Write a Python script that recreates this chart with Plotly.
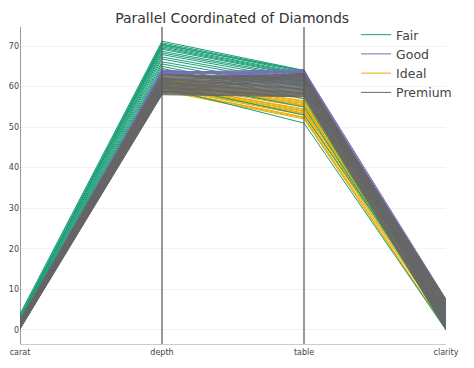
import plotly.graph_objects as go

dims = ["carat", "depth", "table", "clarity"]
y_ticks = [0, 10, 20, 30, 40, 50, 60, 70]

# Fair
fair_carat = [3.9, 3.5, 3.0, 2.8, 2.5, 2.2, 2.0, 1.8, 1.5, 1.2, 1.0, 0.9, 0.8, 0.7, 0.6, 2.6, 3.2, 1.4, 0.5, 1.1]
fair_depth = [71.2, 70.8, 70.5, 70.1, 69.8, 69.2, 68.7, 68.3, 67.9, 67.3, 66.8, 66.1, 65.6, 65.0, 64.5, 70.3, 69.5, 61.5, 60.5, 59.8]
fair_table = [64.0, 63.8, 63.5, 63.2, 63.0, 62.6, 62.3, 62.0, 61.5, 61.0, 60.5, 60.0, 59.0, 58.0, 57.0, 63.9, 62.8, 55.0, 53.0, 51.0]
fair_clarity = [1.0, 3.0, 2.0, 5.0, 4.0, 6.0, 0.5, 3.5, 7.0, 2.5, 1.5, 4.5, 6.5, 5.5, 0.0, 2.0, 4.0, 1.0, 3.0, 0.0]

# Good
good_carat = [0.3, 0.5, 0.7, 0.9, 1.1, 1.3, 1.5, 1.7, 2.0, 2.3, 0.4, 1.0]
good_depth = [63.0, 63.2, 63.4, 63.6, 63.8, 64.0, 63.1, 63.3, 63.5, 63.7, 63.9, 64.1]
good_table = [64.0, 63.8, 63.5, 63.0, 62.5, 62.0, 61.5, 61.0, 64.2, 63.6, 62.8, 61.8]
good_clarity = [7.5, 7.0, 6.5, 6.0, 5.0, 4.0, 3.0, 2.0, 1.0, 5.5, 3.5, 6.8]

# Ideal
ideal_carat = [0.2, 0.3, 0.4, 0.5, 0.6, 0.7, 0.8, 0.9, 1.0, 1.1, 1.2, 1.4, 1.6, 1.8, 2.0, 0.35, 0.55, 0.75, 0.95, 1.3]
ideal_depth = [59.0, 59.3, 59.6, 59.9, 60.2, 60.5, 60.8, 61.1, 61.4, 61.7, 62.0, 62.2, 59.5, 60.0, 61.0, 59.2, 59.8, 60.4, 61.2, 61.8]
ideal_table = [52.0, 52.5, 53.0, 53.5, 54.0, 54.5, 55.0, 55.5, 56.0, 56.5, 57.0, 57.5, 58.0, 53.8, 55.8, 52.3, 53.3, 54.3, 55.3, 56.3]
ideal_clarity = [0.0, 1.0, 2.0, 3.0, 4.0, 5.0, 6.0, 7.0, 0.5, 1.5, 2.5, 3.5, 4.5, 5.5, 6.5, 0.2, 1.2, 2.2, 3.2, 4.2]

# Premium
prem_carat = [0.2, 0.3, 0.35, 0.4, 0.5, 0.55, 0.6, 0.7, 0.75, 0.8, 0.9, 1.0, 1.05, 1.1, 1.2, 1.3, 1.4, 1.5, 1.6, 1.7, 1.8, 1.9, 2.0, 2.1, 2.2, 2.3, 2.5, 0.45, 0.65, 1.25]
prem_depth = [58.0, 58.2, 58.4, 58.6, 58.8, 59.0, 59.2, 59.4, 59.6, 59.8, 60.0, 60.2, 60.4, 60.6, 60.8, 61.0, 61.2, 61.4, 61.6, 61.8, 62.0, 62.2, 62.4, 62.6, 62.8, 63.0, 58.5, 59.5, 60.5, 61.5]
prem_table = [57.5, 57.7, 57.9, 58.1, 58.3, 58.5, 58.7, 58.9, 59.1, 59.3, 59.5, 59.7, 59.9, 60.1, 60.3, 60.5, 60.7, 60.9, 61.1, 61.3, 61.5, 61.7, 61.9, 62.1, 62.3, 62.5, 62.7, 62.9, 63.1, 63.3]
prem_clarity = [0.0, 0.3, 0.6, 0.9, 1.2, 1.5, 1.8, 2.1, 2.4, 2.7, 3.0, 3.3, 3.6, 3.9, 4.2, 4.5, 4.8, 5.1, 5.4, 5.7, 6.0, 6.3, 6.6, 6.9, 7.2, 7.5, 1.0, 2.0, 4.0, 6.0]

series = [
    ("Ideal", "#e6ab02", ideal_carat, ideal_depth, ideal_table, ideal_clarity, 3),
    ("Fair", "#1b9e77", fair_carat, fair_depth, fair_table, fair_clarity, 1),
    ("Good", "#7570b3", good_carat, good_depth, good_table, good_clarity, 2),
    ("Premium", "#666666", prem_carat, prem_depth, prem_table, prem_clarity, 4),
]

fig = go.Figure()
for name, color, c, d, t, cl, rank in series:
    xs, ys = [], []
    for row in zip(c, d, t, cl):
        xs += dims + [None]
        ys += list(row) + [None]
    fig.add_trace(go.Scatter(
        x=xs, y=ys, mode="lines", name=name, legendrank=rank,
        line=dict(color=color, width=1), connectgaps=False,
        hoverinfo="skip"))

for dname in dims[:3]:
    fig.add_shape(type="line", xref="x", yref="paper", x0=dname, x1=dname,
                  y0=0, y1=1, line=dict(color="#555555", width=1.2), layer="above")

fig.update_layout(
    width=466, height=360,
    margin=dict(l=12, r=28, t=19, b=24, autoexpand=False),
    paper_bgcolor="white", plot_bgcolor="white",
    font=dict(family="DejaVu Sans", color="#444444"),
    title=dict(text="Parallel Coordinated of Diamonds", x=0.481, xanchor="center",
               y=0.972, yanchor="middle", font=dict(size=14, color="#333333"),
               automargin=False),
    legend=dict(x=0.789, y=1.022, xanchor="left", yanchor="top",
                bgcolor="rgba(0,0,0,0)", font=dict(size=12.5, color="#444444"),
                itemwidth=30, tracegroupgap=0),
    showlegend=True,
)
fig.update_xaxes(type="category", categoryorder="array", categoryarray=dims,
                 range=[0, 3], showgrid=False, zeroline=False, automargin=False,
                 showline=True, linecolor="#cccccc", linewidth=1,
                 ticks="", tickfont=dict(size=8, color="#444444"))
fig.update_yaxes(range=[-3.5, 74.7], tickvals=y_ticks, showgrid=True, automargin=False,
                 gridcolor="#f2f2f2", zeroline=False, showline=False,
                 ticks="", tickfont=dict(size=8, color="#444444"))

fig.write_html("out.html")
